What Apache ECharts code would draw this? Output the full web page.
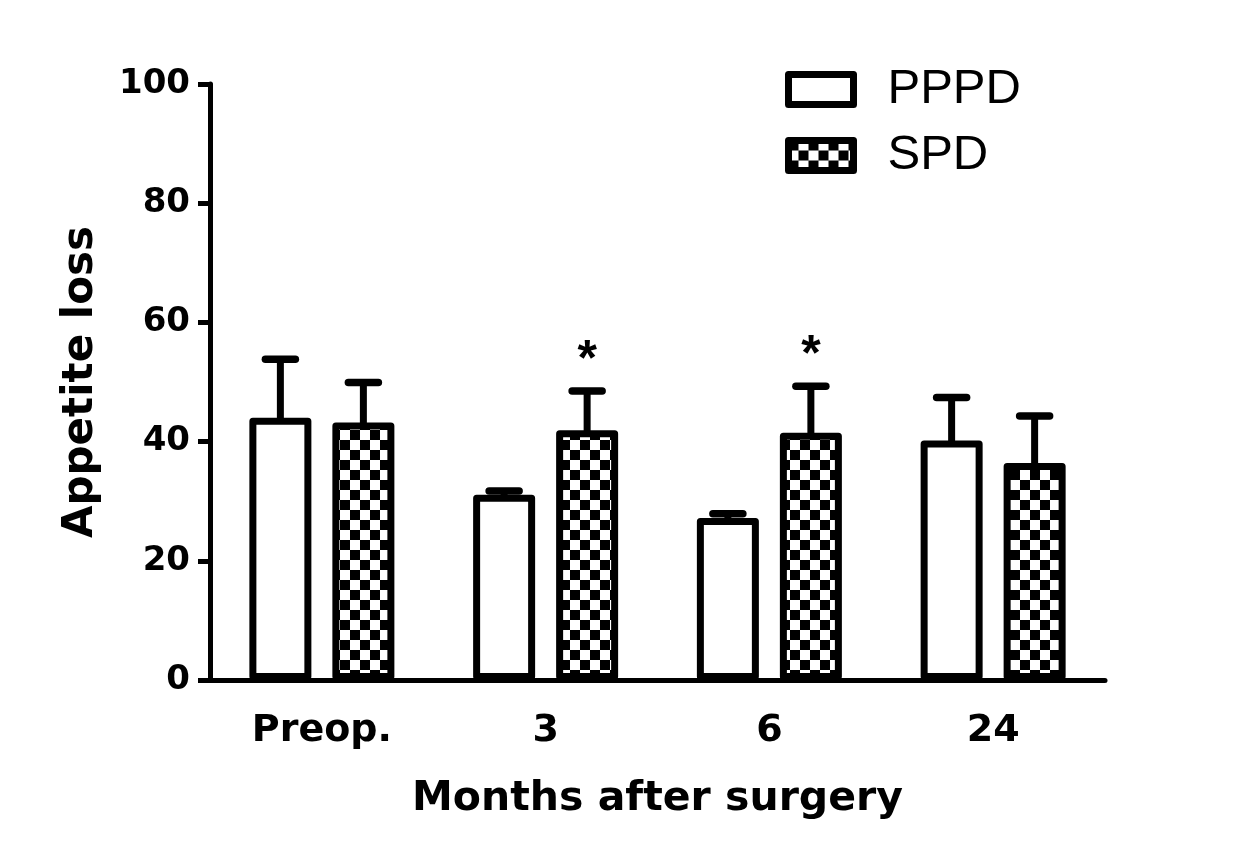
<!DOCTYPE html>
<html>
<head>
<meta charset="utf-8">
<script src="https://cdn.jsdelivr.net/npm/echarts@6/dist/echarts.min.js"></script>
<style>
html,body{margin:0;padding:0;background:#fff;}
#c{width:1241px;height:863px;}
</style>
</head>
<body>
<div id="c"></div>
<script>
// ---- data ----
const categories = ['Preop.', '3', '6', '24'];
const pppdMean = [44.0, 31.1, 27.2, 40.2];
const pppdErr  = [9.8, 0.6, 0.7, 7.2];
const spdMean  = [43.2, 41.9, 41.5, 36.4];
const spdErr   = [6.7, 6.6, 7.8, 7.9];
const spdSig   = ['', '*', '*', ''];
const yTicks = { min: 0, max: 100, interval: 20 };

// ---- style ----
const BOLD_FONT = '"DejaVu Sans", sans-serif';
const REG_FONT = '"Liberation Sans", Arial, sans-serif';
const BAR_W = 62;
const BAR_GAP_PX = 21;
const BORDER = 7;

function makeChecker() {
  const c = document.createElement('canvas');
  c.width = 20; c.height = 20;
  const g = c.getContext('2d');
  g.fillStyle = '#fff'; g.fillRect(0, 0, 20, 20);
  g.fillStyle = '#000';
  g.fillRect(0, 0, 10, 10);
  g.fillRect(10, 10, 10, 10);
  return c;
}
const checker = { image: makeChecker(), repeat: 'repeat' };

function errorSeries(means, errs, sign, sig) {
  return {
    type: 'custom',
    z: 5,
    silent: true,
    data: means.map((m, i) => [i, m, m + errs[i], sig ? sig[i] : '']),
    renderItem: function (params, api) {
      const i = api.value(0);
      const off = sign * (BAR_W + BAR_GAP_PX) / 2;
      const p0 = api.coord([i, api.value(1)]);
      const p1 = api.coord([i, api.value(2)]);
      const x = p0[0] + off;
      const capHalf = 15;
      const children = [
        { type: 'line', shape: { x1: x, y1: p0[1] + 3, x2: x, y2: p1[1] },
          style: { stroke: '#000', lineWidth: 7 } },
        { type: 'line', shape: { x1: x - capHalf, y1: p1[1], x2: x + capHalf, y2: p1[1] },
          style: { stroke: '#000', lineWidth: 7.5, lineCap: 'round' } }
      ];
      const s = api.value(3);
      if (s) {
        children.push({ type: 'text', x: x, y: p1[1] - 30,
          style: { text: s, fill: '#000', font: 'bold 50px ' + REG_FONT, align: 'center', verticalAlign: 'middle' } });
      }
      return { type: 'group', children: children };
    }
  };
}

const chart = echarts.init(document.getElementById('c'));
chart.setOption({
  animation: false,
  backgroundColor: '#fff',
  grid: { left: 210, right: 136, top: 84, bottom: 183, containLabel: false },
  legend: {
    orient: 'vertical',
    left: 780, top: 60,
    itemWidth: 65, itemHeight: 30,
    itemGap: 17,
    textStyle: { fontFamily: REG_FONT, fontSize: 49, color: '#000', padding: [0, 0, 0, 29] },
    data: [
      { name: 'PPPD', icon: 'rect', itemStyle: { color: '#fff', borderColor: '#000', borderWidth: 7 } },
      { name: 'SPD', icon: 'rect', itemStyle: { color: checker, borderColor: '#000', borderWidth: 7 } }
    ]
  },
  xAxis: {
    type: 'category',
    data: categories,
    name: 'Months after surgery',
    nameLocation: 'middle',
    nameGap: 99,
    nameTextStyle: { fontFamily: BOLD_FONT, fontSize: 41, fontWeight: 'bold', color: '#000' },
    axisLine: { lineStyle: { color: '#000', width: 5 } },
    axisTick: { alignWithLabel: true, length: 13, lineStyle: { color: '#000', width: 5 } },
    axisLabel: { margin: 32, fontFamily: BOLD_FONT, fontSize: 38, fontWeight: 'bold', color: '#000' },
    splitLine: { show: false }
  },
  yAxis: {
    type: 'value',
    min: yTicks.min, max: yTicks.max, interval: yTicks.interval,
    name: 'Appetite loss',
    nameLocation: 'middle',
    nameGap: 108,
    nameTextStyle: { fontFamily: BOLD_FONT, fontSize: 42, fontWeight: 'bold', color: '#000' },
    axisLine: { show: true, lineStyle: { color: '#000', width: 5 } },
    axisTick: { show: true, length: 12, lineStyle: { color: '#000', width: 5 } },
    axisLabel: { margin: 20, fontFamily: BOLD_FONT, fontSize: 34, fontWeight: 'bold', color: '#000' },
    splitLine: { show: false }
  },
  series: [
    {
      name: 'PPPD', type: 'bar', data: pppdMean,
      barWidth: BAR_W, barGap: (BAR_GAP_PX / BAR_W * 100) + '%',
      itemStyle: { color: '#fff', borderColor: '#000', borderWidth: BORDER, borderJoin: 'round' }
    },
    {
      name: 'SPD', type: 'bar', data: spdMean,
      barWidth: BAR_W,
      itemStyle: { color: checker, borderColor: '#000', borderWidth: BORDER, borderJoin: 'round' }
    },
    errorSeries(pppdMean, pppdErr, -1, null),
    errorSeries(spdMean, spdErr, 1, spdSig)
  ]
});
</script>
</body>
</html>
